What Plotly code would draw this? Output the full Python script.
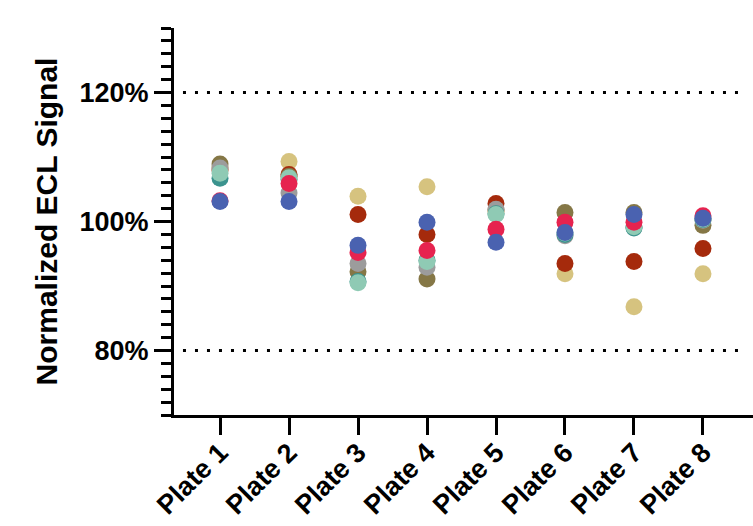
import plotly.graph_objects as go

plates = ["Plate 1", "Plate 2", "Plate 3", "Plate 4", "Plate 5", "Plate 6", "Plate 7", "Plate 8"]

# Series drawn in this order (later ones on top)
tan      = [108.5, 109.3, 103.9, 105.4, 101.5, 91.9, 86.8, 91.9]
dark_red = [108.0, 107.3, 101.1, 98.0, 102.8, 93.5, 93.8, 95.8]
olive    = [108.9, 107.0, 92.2, 91.1, 101.8, 101.4, 101.4, 99.4]
gray     = [108.3, 104.4, 93.5, 92.9, 101.9, 97.8, 99.1, 100.2]
teal     = [106.7, 106.5, 90.7, 94.0, 101.2, 98.0, 99.0, 100.3]
mint     = [107.5, 106.8, 90.5, 93.8, 101.1, 98.2, 99.2, 100.4]
crimson  = [103.2, 105.9, 95.2, 95.5, 98.8, 99.9, 99.9, 100.9]
blue     = [103.1, 103.1, 96.3, 99.9, 96.8, 98.3, 101.1, 100.5]

series = [
    ("Tan", tan, "#d6c37f"),
    ("Dark red", dark_red, "#a52a0c"),
    ("Olive", olive, "#857746"),
    ("Gray", gray, "#9c9c9c"),
    ("Teal", teal, "#3b938e"),
    ("Mint", mint, "#8fcab4"),
    ("Crimson", crimson, "#e6234f"),
    ("Blue", blue, "#4a62b0"),
]

y_ticks = [80, 100, 120]
y_tick_text = ["80%", "100%", "120%"]
ref_lines = [80, 120]

fig = go.Figure()
for name, vals, col in series:
    fig.add_trace(go.Scatter(
        x=plates, y=vals, mode="markers", name=name,
        marker=dict(size=17, color=col, line=dict(width=0)),
        showlegend=False,
    ))

for yv in ref_lines:
    fig.add_shape(type="line", xref="paper", yref="y",
                  x0=0.0155, x1=0.981, y0=yv, y1=yv,
                  line=dict(color="black", width=3, dash="3px,9px"))

font_family = "Liberation Sans, Arial, sans-serif"

fig.update_layout(
    width=753, height=526,
    margin=dict(l=174, r=0, t=28, b=111, autoexpand=False),
    paper_bgcolor="white", plot_bgcolor="white",
    font=dict(family=font_family, color="black"),
    xaxis=dict(
        type="category",
        range=[-0.667, 7.725],
        showline=True, linecolor="black", linewidth=3,
        ticks="outside", ticklen=17, tickwidth=3, tickcolor="black",
        tickangle=-45, ticklabelstandoff=-9,
        tickfont=dict(family=font_family, size=27, color="black", weight="bold"),
        showgrid=False, zeroline=False, automargin=False,
    ),
    yaxis=dict(
        range=[70, 130],
        tickvals=y_ticks, ticktext=y_tick_text,
        showline=True, linecolor="black", linewidth=3,
        ticks="outside", ticklen=17, tickwidth=3, tickcolor="black",
        minor=dict(dtick=2, tick0=0, ticks="outside", ticklen=10, tickwidth=3, tickcolor="black", showgrid=False),
        tickfont=dict(family=font_family, size=27, color="black", weight="bold"),
        title=dict(text="Normalized ECL Signal", standoff=14,
                   font=dict(family=font_family, size=30, color="black", weight="bold")),
        showgrid=False, zeroline=False, automargin=False,
    ),
)

fig.write_html("out.html")
